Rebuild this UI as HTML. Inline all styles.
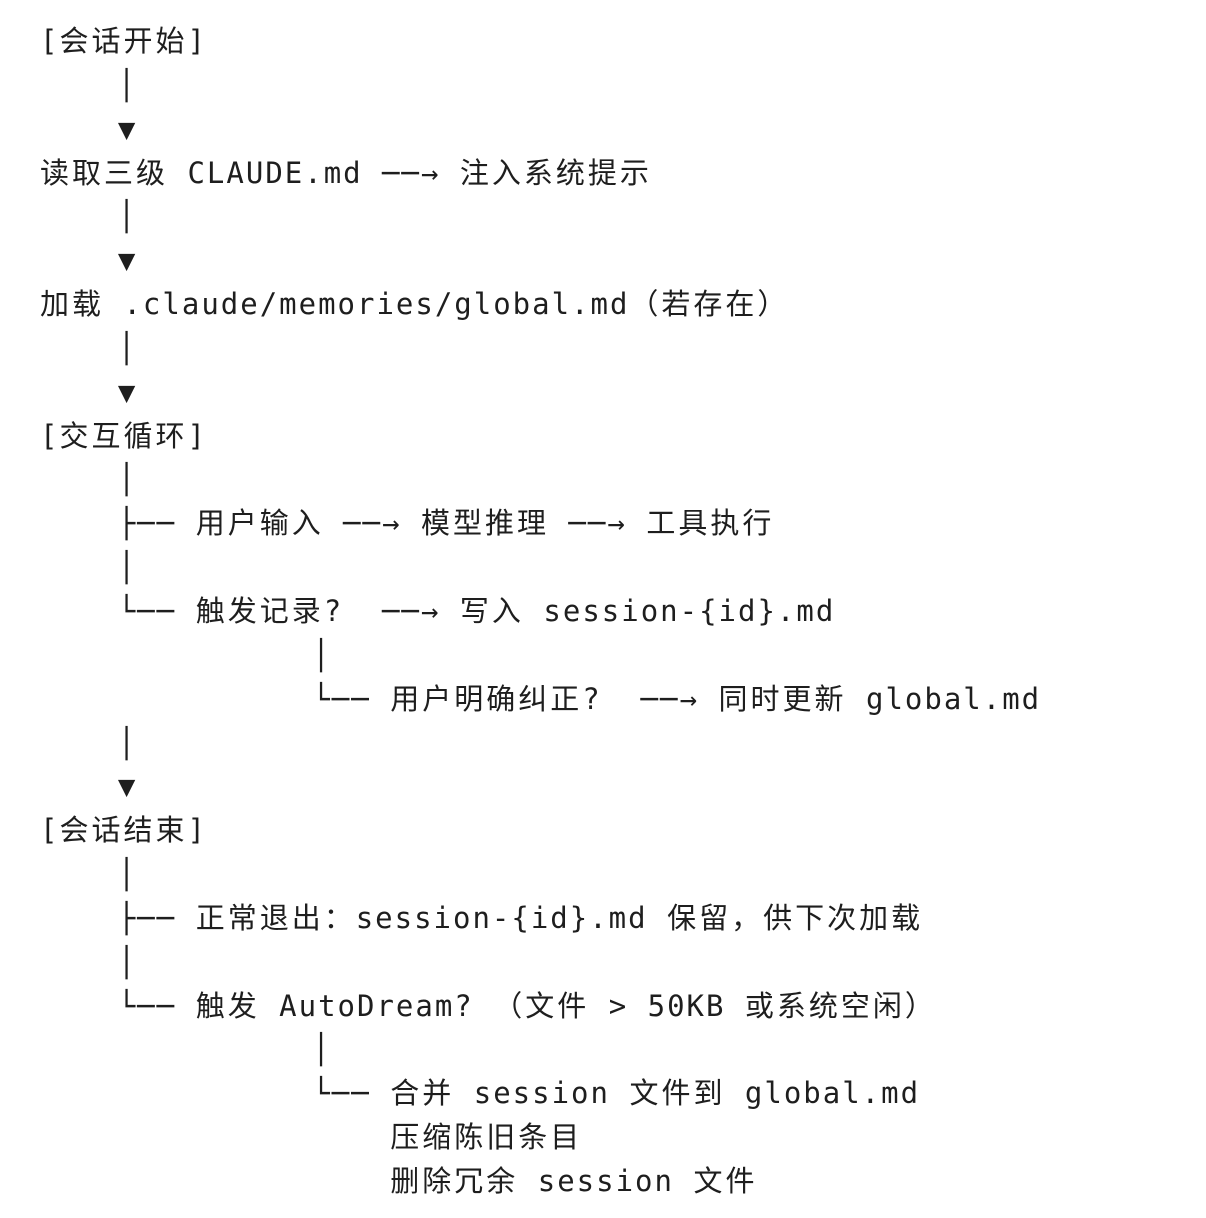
<!DOCTYPE html>
<html><head><meta charset="utf-8">
<style>
html,body{margin:0;padding:0;background:#fff;width:1206px;height:1218px;overflow:hidden}
pre{position:absolute;left:40px;top:20px;margin:0;font-family:"DejaVu Sans Mono","Liberation Mono","Noto Sans CJK SC",monospace;font-size:29px;letter-spacing:2px;line-height:43.85px;color:#1e1e1e}
b{font-weight:normal;letter-spacing:3px}
</style></head><body>
<pre>[<b>会话开始</b>]
    │
    ▼
<b>读取三级</b> CLAUDE.md ──→ <b>注入系统提示</b>
    │
    ▼
<b>加载</b> .claude/memories/global.md<b>（若存在）</b>
    │
    ▼
[<b>交互循环</b>]
    │
    ├── <b>用户输入</b> ──→ <b>模型推理</b> ──→ <b>工具执行</b>
    │
    └── <b>触发记录</b>?  ──→ <b>写入</b> session-{id}.md
              │
              └── <b>用户明确纠正</b>?  ──→ <b>同时更新</b> global.md
    │
    ▼
[<b>会话结束</b>]
    │
    ├── <b>正常退出：</b>session-{id}.md <b>保留，供下次加载</b>
    │
    └── <b>触发</b> AutoDream? <b>（文件</b> &gt; 50KB <b>或系统空闲）</b>
              │
              └── <b>合并</b> session <b>文件到</b> global.md
                  <b>压缩陈旧条目</b>
                  <b>删除冗余</b> session <b>文件</b></pre>
</body></html>
